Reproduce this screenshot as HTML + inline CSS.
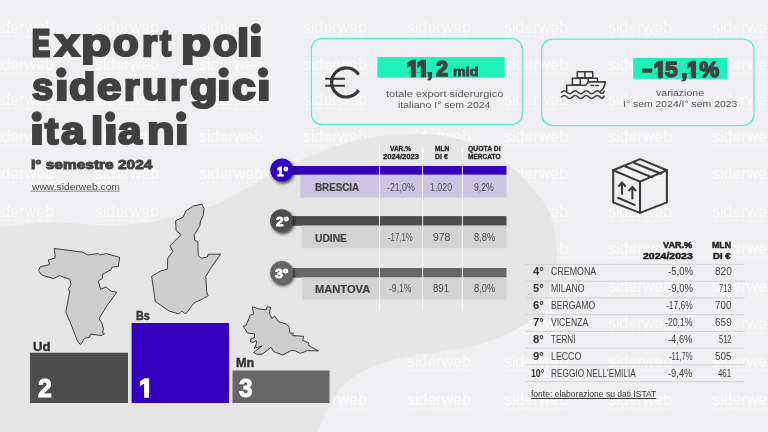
<!DOCTYPE html>
<html lang="it">
<head>
<meta charset="utf-8">
<title>Export poli siderurgici italiani</title>
<style>
html,body{margin:0;padding:0;}
body{width:768px;height:432px;overflow:hidden;background:#efeff1;font-family:"Liberation Sans",sans-serif;}
#stage{position:relative;width:768px;height:432px;overflow:hidden;background:#efeff1;}
svg.layer{position:absolute;left:0;top:0;width:768px;height:432px;}
.t{position:absolute;line-height:1;white-space:nowrap;transform-origin:0 0;}
.ttl{margin:0;padding:0;font-size:inherit;font-weight:inherit;position:static;}
.num{font-weight:inherit;position:static;}
.wm{position:absolute;color:#fff;opacity:.57;white-space:nowrap;line-height:1;}
.wm b{position:absolute;left:0;top:0;font-size:15.7px;font-weight:400;-webkit-text-stroke:.25px #fff;transform-origin:0 0;transform:scaleX(1.02);}
.wm i{position:absolute;left:.3px;top:16.02px;font-style:normal;font-weight:700;font-size:3.5px;letter-spacing:.46px;opacity:.8;}
</style>
</head>
<body>
<div id="stage">
<div id="wms">
<div class="wm" style="left:-10.1px;top:20.02px"><b>siderweb</b><i>LA COMMUNITY DELL&#39;ACCIAIO</i></div>
<div class="wm" style="left:94.9px;top:20.02px"><b>siderweb</b><i>LA COMMUNITY DELL&#39;ACCIAIO</i></div>
<div class="wm" style="left:198.9px;top:20.02px"><b>siderweb</b><i>LA COMMUNITY DELL&#39;ACCIAIO</i></div>
<div class="wm" style="left:302.9px;top:20.02px"><b>siderweb</b><i>LA COMMUNITY DELL&#39;ACCIAIO</i></div>
<div class="wm" style="left:407.4px;top:20.02px"><b>siderweb</b><i>LA COMMUNITY DELL&#39;ACCIAIO</i></div>
<div class="wm" style="left:504.4px;top:20.02px"><b>siderweb</b><i>LA COMMUNITY DELL&#39;ACCIAIO</i></div>
<div class="wm" style="left:607.9px;top:20.02px"><b>siderweb</b><i>LA COMMUNITY DELL&#39;ACCIAIO</i></div>
<div class="wm" style="left:712.4px;top:20.02px"><b>siderweb</b><i>LA COMMUNITY DELL&#39;ACCIAIO</i></div>
<div class="wm" style="left:-10.1px;top:57.02px"><b>siderweb</b><i>LA COMMUNITY DELL&#39;ACCIAIO</i></div>
<div class="wm" style="left:94.9px;top:57.02px"><b>siderweb</b><i>LA COMMUNITY DELL&#39;ACCIAIO</i></div>
<div class="wm" style="left:198.9px;top:57.02px"><b>siderweb</b><i>LA COMMUNITY DELL&#39;ACCIAIO</i></div>
<div class="wm" style="left:302.9px;top:57.02px"><b>siderweb</b><i>LA COMMUNITY DELL&#39;ACCIAIO</i></div>
<div class="wm" style="left:407.4px;top:57.02px"><b>siderweb</b><i>LA COMMUNITY DELL&#39;ACCIAIO</i></div>
<div class="wm" style="left:504.4px;top:57.02px"><b>siderweb</b><i>LA COMMUNITY DELL&#39;ACCIAIO</i></div>
<div class="wm" style="left:607.9px;top:57.02px"><b>siderweb</b><i>LA COMMUNITY DELL&#39;ACCIAIO</i></div>
<div class="wm" style="left:712.4px;top:57.02px"><b>siderweb</b><i>LA COMMUNITY DELL&#39;ACCIAIO</i></div>
<div class="wm" style="left:-10.1px;top:92.02px"><b>siderweb</b><i>LA COMMUNITY DELL&#39;ACCIAIO</i></div>
<div class="wm" style="left:94.9px;top:92.02px"><b>siderweb</b><i>LA COMMUNITY DELL&#39;ACCIAIO</i></div>
<div class="wm" style="left:198.9px;top:92.02px"><b>siderweb</b><i>LA COMMUNITY DELL&#39;ACCIAIO</i></div>
<div class="wm" style="left:302.9px;top:92.02px"><b>siderweb</b><i>LA COMMUNITY DELL&#39;ACCIAIO</i></div>
<div class="wm" style="left:407.4px;top:92.02px"><b>siderweb</b><i>LA COMMUNITY DELL&#39;ACCIAIO</i></div>
<div class="wm" style="left:504.4px;top:92.02px"><b>siderweb</b><i>LA COMMUNITY DELL&#39;ACCIAIO</i></div>
<div class="wm" style="left:607.9px;top:92.02px"><b>siderweb</b><i>LA COMMUNITY DELL&#39;ACCIAIO</i></div>
<div class="wm" style="left:712.4px;top:92.02px"><b>siderweb</b><i>LA COMMUNITY DELL&#39;ACCIAIO</i></div>
<div class="wm" style="left:-10.1px;top:129.02px"><b>siderweb</b><i>LA COMMUNITY DELL&#39;ACCIAIO</i></div>
<div class="wm" style="left:94.9px;top:129.02px"><b>siderweb</b><i>LA COMMUNITY DELL&#39;ACCIAIO</i></div>
<div class="wm" style="left:198.9px;top:129.02px"><b>siderweb</b><i>LA COMMUNITY DELL&#39;ACCIAIO</i></div>
<div class="wm" style="left:302.9px;top:129.02px"><b>siderweb</b><i>LA COMMUNITY DELL&#39;ACCIAIO</i></div>
<div class="wm" style="left:407.4px;top:129.02px"><b>siderweb</b><i>LA COMMUNITY DELL&#39;ACCIAIO</i></div>
<div class="wm" style="left:504.4px;top:129.02px"><b>siderweb</b><i>LA COMMUNITY DELL&#39;ACCIAIO</i></div>
<div class="wm" style="left:607.9px;top:129.02px"><b>siderweb</b><i>LA COMMUNITY DELL&#39;ACCIAIO</i></div>
<div class="wm" style="left:712.4px;top:129.02px"><b>siderweb</b><i>LA COMMUNITY DELL&#39;ACCIAIO</i></div>
<div class="wm" style="left:-10.1px;top:166.02px"><b>siderweb</b><i>LA COMMUNITY DELL&#39;ACCIAIO</i></div>
<div class="wm" style="left:94.9px;top:166.02px"><b>siderweb</b><i>LA COMMUNITY DELL&#39;ACCIAIO</i></div>
<div class="wm" style="left:198.9px;top:166.02px"><b>siderweb</b><i>LA COMMUNITY DELL&#39;ACCIAIO</i></div>
<div class="wm" style="left:302.9px;top:166.02px"><b>siderweb</b><i>LA COMMUNITY DELL&#39;ACCIAIO</i></div>
<div class="wm" style="left:407.4px;top:166.02px"><b>siderweb</b><i>LA COMMUNITY DELL&#39;ACCIAIO</i></div>
<div class="wm" style="left:504.4px;top:166.02px"><b>siderweb</b><i>LA COMMUNITY DELL&#39;ACCIAIO</i></div>
<div class="wm" style="left:607.9px;top:166.02px"><b>siderweb</b><i>LA COMMUNITY DELL&#39;ACCIAIO</i></div>
<div class="wm" style="left:712.4px;top:166.02px"><b>siderweb</b><i>LA COMMUNITY DELL&#39;ACCIAIO</i></div>
<div class="wm" style="left:-10.1px;top:204.02px"><b>siderweb</b><i>LA COMMUNITY DELL&#39;ACCIAIO</i></div>
<div class="wm" style="left:94.9px;top:204.02px"><b>siderweb</b><i>LA COMMUNITY DELL&#39;ACCIAIO</i></div>
<div class="wm" style="left:198.9px;top:204.02px"><b>siderweb</b><i>LA COMMUNITY DELL&#39;ACCIAIO</i></div>
<div class="wm" style="left:302.9px;top:204.02px"><b>siderweb</b><i>LA COMMUNITY DELL&#39;ACCIAIO</i></div>
<div class="wm" style="left:407.4px;top:204.02px"><b>siderweb</b><i>LA COMMUNITY DELL&#39;ACCIAIO</i></div>
<div class="wm" style="left:504.4px;top:204.02px"><b>siderweb</b><i>LA COMMUNITY DELL&#39;ACCIAIO</i></div>
<div class="wm" style="left:607.9px;top:204.02px"><b>siderweb</b><i>LA COMMUNITY DELL&#39;ACCIAIO</i></div>
<div class="wm" style="left:712.4px;top:204.02px"><b>siderweb</b><i>LA COMMUNITY DELL&#39;ACCIAIO</i></div>
<div class="wm" style="left:-10.1px;top:241.02px"><b>siderweb</b><i>LA COMMUNITY DELL&#39;ACCIAIO</i></div>
<div class="wm" style="left:94.9px;top:241.02px"><b>siderweb</b><i>LA COMMUNITY DELL&#39;ACCIAIO</i></div>
<div class="wm" style="left:198.9px;top:241.02px"><b>siderweb</b><i>LA COMMUNITY DELL&#39;ACCIAIO</i></div>
<div class="wm" style="left:302.9px;top:241.02px"><b>siderweb</b><i>LA COMMUNITY DELL&#39;ACCIAIO</i></div>
<div class="wm" style="left:407.4px;top:241.02px"><b>siderweb</b><i>LA COMMUNITY DELL&#39;ACCIAIO</i></div>
<div class="wm" style="left:504.4px;top:241.02px"><b>siderweb</b><i>LA COMMUNITY DELL&#39;ACCIAIO</i></div>
<div class="wm" style="left:607.9px;top:241.02px"><b>siderweb</b><i>LA COMMUNITY DELL&#39;ACCIAIO</i></div>
<div class="wm" style="left:712.4px;top:241.02px"><b>siderweb</b><i>LA COMMUNITY DELL&#39;ACCIAIO</i></div>
<div class="wm" style="left:-10.1px;top:279.02px"><b>siderweb</b><i>LA COMMUNITY DELL&#39;ACCIAIO</i></div>
<div class="wm" style="left:94.9px;top:279.02px"><b>siderweb</b><i>LA COMMUNITY DELL&#39;ACCIAIO</i></div>
<div class="wm" style="left:198.9px;top:279.02px"><b>siderweb</b><i>LA COMMUNITY DELL&#39;ACCIAIO</i></div>
<div class="wm" style="left:302.9px;top:279.02px"><b>siderweb</b><i>LA COMMUNITY DELL&#39;ACCIAIO</i></div>
<div class="wm" style="left:407.4px;top:279.02px"><b>siderweb</b><i>LA COMMUNITY DELL&#39;ACCIAIO</i></div>
<div class="wm" style="left:504.4px;top:279.02px"><b>siderweb</b><i>LA COMMUNITY DELL&#39;ACCIAIO</i></div>
<div class="wm" style="left:607.9px;top:279.02px"><b>siderweb</b><i>LA COMMUNITY DELL&#39;ACCIAIO</i></div>
<div class="wm" style="left:712.4px;top:279.02px"><b>siderweb</b><i>LA COMMUNITY DELL&#39;ACCIAIO</i></div>
<div class="wm" style="left:-10.1px;top:316.02px"><b>siderweb</b><i>LA COMMUNITY DELL&#39;ACCIAIO</i></div>
<div class="wm" style="left:94.9px;top:316.02px"><b>siderweb</b><i>LA COMMUNITY DELL&#39;ACCIAIO</i></div>
<div class="wm" style="left:198.9px;top:316.02px"><b>siderweb</b><i>LA COMMUNITY DELL&#39;ACCIAIO</i></div>
<div class="wm" style="left:302.9px;top:316.02px"><b>siderweb</b><i>LA COMMUNITY DELL&#39;ACCIAIO</i></div>
<div class="wm" style="left:407.4px;top:316.02px"><b>siderweb</b><i>LA COMMUNITY DELL&#39;ACCIAIO</i></div>
<div class="wm" style="left:504.4px;top:316.02px"><b>siderweb</b><i>LA COMMUNITY DELL&#39;ACCIAIO</i></div>
<div class="wm" style="left:607.9px;top:316.02px"><b>siderweb</b><i>LA COMMUNITY DELL&#39;ACCIAIO</i></div>
<div class="wm" style="left:712.4px;top:316.02px"><b>siderweb</b><i>LA COMMUNITY DELL&#39;ACCIAIO</i></div>
<div class="wm" style="left:-10.1px;top:354.02px"><b>siderweb</b><i>LA COMMUNITY DELL&#39;ACCIAIO</i></div>
<div class="wm" style="left:94.9px;top:354.02px"><b>siderweb</b><i>LA COMMUNITY DELL&#39;ACCIAIO</i></div>
<div class="wm" style="left:198.9px;top:354.02px"><b>siderweb</b><i>LA COMMUNITY DELL&#39;ACCIAIO</i></div>
<div class="wm" style="left:302.9px;top:354.02px"><b>siderweb</b><i>LA COMMUNITY DELL&#39;ACCIAIO</i></div>
<div class="wm" style="left:407.4px;top:354.02px"><b>siderweb</b><i>LA COMMUNITY DELL&#39;ACCIAIO</i></div>
<div class="wm" style="left:504.4px;top:354.02px"><b>siderweb</b><i>LA COMMUNITY DELL&#39;ACCIAIO</i></div>
<div class="wm" style="left:607.9px;top:354.02px"><b>siderweb</b><i>LA COMMUNITY DELL&#39;ACCIAIO</i></div>
<div class="wm" style="left:712.4px;top:354.02px"><b>siderweb</b><i>LA COMMUNITY DELL&#39;ACCIAIO</i></div>
<div class="wm" style="left:-10.1px;top:392.02px"><b>siderweb</b><i>LA COMMUNITY DELL&#39;ACCIAIO</i></div>
<div class="wm" style="left:94.9px;top:392.02px"><b>siderweb</b><i>LA COMMUNITY DELL&#39;ACCIAIO</i></div>
<div class="wm" style="left:198.9px;top:392.02px"><b>siderweb</b><i>LA COMMUNITY DELL&#39;ACCIAIO</i></div>
<div class="wm" style="left:302.9px;top:392.02px"><b>siderweb</b><i>LA COMMUNITY DELL&#39;ACCIAIO</i></div>
<div class="wm" style="left:407.4px;top:392.02px"><b>siderweb</b><i>LA COMMUNITY DELL&#39;ACCIAIO</i></div>
<div class="wm" style="left:504.4px;top:392.02px"><b>siderweb</b><i>LA COMMUNITY DELL&#39;ACCIAIO</i></div>
<div class="wm" style="left:607.9px;top:392.02px"><b>siderweb</b><i>LA COMMUNITY DELL&#39;ACCIAIO</i></div>
<div class="wm" style="left:712.4px;top:392.02px"><b>siderweb</b><i>LA COMMUNITY DELL&#39;ACCIAIO</i></div>
</div>
<svg class="layer" viewBox="0 0 768 432">
  <path d="M-6.0,229.0 C-5.0,228.8 -3.8,228.3 0.0,227.7 C3.8,227.1 11.1,225.9 16.7,225.2 C22.2,224.5 27.7,223.9 33.3,223.5 C38.8,223.1 44.4,222.8 50.0,222.7 C55.6,222.6 61.2,222.5 66.7,222.7 C72.2,222.9 77.8,223.6 83.3,224.0 C88.8,224.4 94.4,224.9 100.0,225.2 C105.6,225.4 111.3,225.7 116.7,225.5 C122.1,225.3 127.8,224.5 132.5,224.1 C137.2,223.7 140.8,223.5 145.0,222.9 C149.2,222.3 153.3,221.3 157.5,220.4 C161.7,219.5 165.4,218.5 170.0,217.2 C174.6,216.0 179.2,214.7 185.0,213.0 C190.8,211.3 200.2,208.6 205.0,207.2 C209.8,205.9 211.7,205.9 214.0,205.2 C216.3,204.5 215.1,205.2 219.0,203.2 C222.9,201.2 231.3,196.4 237.5,193.1 C243.7,189.8 250.8,186.0 256.2,183.1 C261.7,180.2 265.1,178.3 270.0,175.6 C274.9,172.9 280.8,169.6 285.8,167.0 C290.8,164.4 294.6,162.7 300.0,160.3 C305.4,157.9 312.3,155.0 318.5,152.6 C324.7,150.2 330.8,148.1 337.0,146.1 C343.2,144.1 349.4,142.1 355.6,140.6 C361.8,139.1 367.8,137.9 374.0,136.9 C380.2,135.9 386.9,135.3 392.6,134.8 C398.3,134.3 403.3,134.2 408.0,134.0 C412.7,133.8 416.7,133.8 421.0,133.9 C425.3,134.0 429.8,134.2 434.0,134.6 C438.2,135.0 441.9,135.7 446.0,136.4 C450.1,137.1 454.3,138.0 458.5,139.0 C462.7,140.0 467.1,141.3 471.0,142.6 C474.9,143.9 478.5,145.3 482.0,146.8 C485.5,148.3 488.8,149.7 492.0,151.6 C495.2,153.5 498.2,156.2 501.2,158.5 C504.2,160.8 507.3,163.3 510.0,165.6 C512.7,167.9 514.6,169.7 517.5,172.5 C520.4,175.3 524.8,179.6 527.5,182.5 C530.2,185.4 531.5,187.3 533.8,190.0 C536.0,192.7 539.0,195.6 541.2,198.8 C543.5,201.9 545.7,205.2 547.5,208.8 C549.3,212.3 550.6,216.0 551.9,220.0 C553.1,224.0 554.2,228.5 555.0,232.5 C555.8,236.5 556.1,239.9 556.4,244.0 C556.7,248.1 557.2,252.7 557.0,257.0 C556.8,261.3 555.7,266.4 555.2,270.0 C554.7,273.6 554.6,275.2 553.8,278.8 C552.9,282.3 551.5,287.3 550.0,291.2 C548.5,295.2 546.9,299.0 545.0,302.5 C543.1,306.0 541.2,309.4 538.8,312.5 C536.2,315.6 534.0,318.1 530.0,321.0 C526.0,323.9 519.6,327.5 515.0,330.0 C510.4,332.5 506.7,334.4 502.5,336.2 C498.3,338.1 494.2,339.6 490.0,341.0 C485.8,342.4 481.7,343.7 477.5,344.8 C473.3,345.8 469.2,346.7 465.0,347.5 C460.8,348.3 456.7,349.0 452.5,349.8 C448.3,350.5 444.5,351.2 440.0,351.9 C435.5,352.6 429.8,353.1 425.2,353.8 C420.7,354.4 416.9,354.9 412.8,355.6 C408.6,356.3 404.4,357.2 400.2,358.1 C396.1,359.0 391.9,360.0 387.8,361.2 C383.6,362.5 379.4,363.8 375.2,365.6 C371.1,367.4 366.7,369.8 362.8,371.9 C358.8,374.0 354.9,376.1 351.5,378.4 C348.1,380.7 345.0,382.9 342.5,385.5 C340.0,388.1 338.3,390.9 336.2,394.2 C334.2,397.6 332.1,401.5 330.0,405.5 C327.9,409.5 325.7,413.6 323.8,418.0 C321.8,422.4 319.6,428.3 318.1,432.0 C316.6,435.7 315.5,438.7 315.0,440.0 L-6,440 Z" fill="#e6e6e6"/>
</svg>
<svg class="layer" viewBox="0 0 768 432">
  <defs>
    <filter id="sh" x="-50%" y="-50%" width="200%" height="200%">
      <feDropShadow dx="1.3" dy="1.9" stdDeviation="1.4" flood-color="#000" flood-opacity=".7"/>
    </filter>
  </defs>
  <!-- stat boxes -->
  <rect x="311.4" y="38.3" width="210.9" height="86.4" rx="11" fill="none" stroke="#52f0c8" stroke-width="1.25"/>
  <rect x="541.7" y="39" width="212.3" height="86.5" rx="11" fill="none" stroke="#52f0c8" stroke-width="1.25"/>
  <rect x="377.4" y="57.1" width="127.3" height="20.7" fill="#1ef0b9"/>
  <rect x="633.2" y="58" width="94.4" height="20.9" fill="#1ef0b9"/>
  <!-- euro icon -->
  <g fill="none" stroke="#383838">
    <path d="M358.6,74.6 A14.6,14.6 0 1 0 358.6,90.2" stroke-width="3.2"/>
    <path d="M325.2,78.7 H344.9 M325.2,85.8 H344.9" stroke-width="2.1"/>
  </g>
  <!-- ship icon -->
  <g fill="none" stroke="#3c3c3c" stroke-width="1.55" stroke-linejoin="round" stroke-linecap="round" transform="translate(0,.45)">
    <rect x="577.3" y="71.3" width="15.4" height="6"/>
    <path d="M584.8,71.3 V77.3"/>
    <rect x="572.4" y="77.8" width="7.8" height="6.8"/>
    <path d="M580.2,77.8 H588.2 V82 M589,77.8 H597.4 V81"/>
    <path d="M566.7,91 V84.8 H585.4 L589,81.4 H605.2 C605,86 603,89 600,91.3"/>
    <path d="M591.1,85 H593.7 M595.8,85 H598.4"/>
    <path d="M561.5,91.8 q2.75,-3 5.5,0 t5.5,0 t5.5,0 t5.5,0 t5.5,0 t5.5,0 t5.5,0 t4.2,-1"/>
    <path d="M561.5,96.5 q2.75,-3 5.5,0 t5.5,0 t5.5,0 t5.5,0 t5.5,0 t5.5,0 t5.5,0 t4.2,-1"/>
  </g>
  <!-- box icon -->
  <g fill="none" stroke="#3a3a3a" stroke-width="2.05" stroke-linejoin="round" stroke-linecap="round">
    <path d="M640,159.1 L666.9,170.2 V202.4 L640,212.9 L613.2,202.4 V170.2 Z"/>
    <path d="M613.2,170.2 L640,181.6 L666.9,170.2 M640,181.6 V212.9"/>
    <path d="M633.8,162.7 L661,173.7 M625,166.2 L651.9,177.3"/>
    <path d="M622,183 V194 M618.9,186 L622,182.5 L625.2,186"/>
    <path d="M632.4,187.2 V198.4 M629.2,190.4 L632.4,186.9 L635.6,190.4"/>
    <path d="M618,197.8 L634.7,204.9"/>
  </g>
  <!-- table -->
  <rect x="282" y="166" width="224.5" height="8.8" fill="#3300c0"/>
  <rect x="300.3" y="174.8" width="206.2" height="22.9" fill="#cbc5e3"/>
  <rect x="282" y="216.1" width="224.5" height="9.6" fill="#4d4d4d"/>
  <rect x="301.9" y="225.6" width="204.6" height="22.6" fill="#d3d3d3"/>
  <rect x="282" y="268" width="224.5" height="9.6" fill="#666"/>
  <rect x="302.2" y="277.5" width="204.3" height="22" fill="#d3d3d3"/>
  <path d="M379.5,143.5 V310 M422.6,148 V310.5 M462.4,148 V310.5" stroke="#fff" stroke-width=".9" fill="none"/>
  <circle cx="281.8" cy="170" r="11.5" fill="#3300c0" filter="url(#sh)"/>
  <circle cx="281.6" cy="220.7" r="11.5" fill="#4d4d4d" filter="url(#sh)"/>
  <circle cx="281.6" cy="272.6" r="11.5" fill="#666" filter="url(#sh)"/>
  <!-- maps -->
  <g fill="#cecece" stroke="#3d3d3d" stroke-width="1" stroke-linejoin="round">
    <path d="M54.3,248.5 L83,252.2 87.6,255 98.3,253.6 99.9,255 106.2,253.6 119.6,257.3 118.4,266.6 112.2,267.1 110.8,269.8 102.2,274.5 102.7,278.2 98.3,281 100.6,289.5 105.7,286.8 111.5,291.4 116.8,292.1 105.7,307.6 99,318.8 101.5,322.1 103.5,328.8 102.5,332.7 104.4,333.7 101.2,335.6 90.4,334 89.6,337.1 84.6,338.5 80.4,344.6 77.5,341.3 71.7,326 66.3,313.1 65.9,311.5 69.8,290.7 68.2,289.8 71,284.4 69.8,279.3 59.4,275.6 53.6,278.6 42,275.2 38.5,270.5 40.4,266.6 49.7,264.7 48.3,260.1 55.2,257.8 Z"/>
    <path d="M201.7,204.2 L203.9,208.3 203.3,215.3 200.6,220.8 199.7,226.4 194.2,234.7 194.7,240.3 197.8,241.7 198.3,255.6 201.1,258.3 207.5,256.9 208.1,254.2 220.6,254.2 210.8,268.1 205.8,276.4 206.7,291.7 208.1,295.8 203.3,298.6 194.2,302.8 185.8,313.9 181.7,311.1 178.9,313.9 169.2,311.1 155.3,301.4 151.7,276.4 160.8,270.8 167.2,269.4 167.8,258.3 172.8,251.4 170,245.8 181.1,234.7 176.1,230.6 175.6,220.8 183.1,217.2 185.8,211.1 192.8,206.1 Z"/>
    <path d="M252.4,306.7 L258.4,308.8 266,309.9 267.3,306.7 270.5,307.2 269.4,313.2 271.8,318.5 274.6,316.1 278.6,321.7 286.7,324.2 289.2,327.4 290,333.1 293.5,333.1 292.4,335.5 303.7,336.3 302.6,340.4 308.6,342.8 308.9,345.6 318.3,350.9 307.5,350.6 300.5,353.3 294.8,350.6 290.8,350.6 282.7,355 273.8,351.7 271,347.2 262.4,354.2 256.7,354.2 253.5,352.5 261.9,346.1 254.3,348.2 256.7,343.3 255.9,340.1 254,342.3 250.7,342 250.7,338.4 254.3,337.9 254.6,333.9 247.5,333.1 243.3,326.1 245.9,325.5 250.3,315.3 253.5,314.1 Z"/>
  </g>
  <!-- podium -->
  <rect x="30" y="352.7" width="98" height="50.3" fill="#4d4d4d"/>
  <rect x="131.6" y="323" width="97.4" height="80" fill="#3300c0"/>
  <rect x="232.5" y="370.5" width="97" height="32.5" fill="#666"/>
  <!-- list lines -->
  <g stroke="#d2d2d4" stroke-width="1">
    <path d="M525.5,264.40 H744.5 M525.5,281.15 H744.5 M525.5,297.90 H744.5 M525.5,314.65 H744.5 M525.5,331.40 H744.5 M525.5,348.15 H744.5 M525.5,364.90 H744.5 M525.5,381.65 H744.5"/>
  </g>
  <g fill="#414141"><circle cx="255.8" cy="28.4" r="5.15"/><circle cx="61.2" cy="72.3" r="5.15"/><circle cx="223.6" cy="72.3" r="5.15"/><circle cx="263.0" cy="72.3" r="5.15"/><circle cx="36.7" cy="116.5" r="5.15"/><circle cx="110.1" cy="116.5" r="5.15"/><circle cx="181.1" cy="116.5" r="5.15"/></g>
  <path d="M30.7,191.2 H119.7" stroke="#444" stroke-width=".6"/>
</svg>
<h1 class="ttl"><span class="t" style="left:32.33px;top:26.02px;font-size:36.77px;font-weight:700;color:#414141;transform:scaleX(0.7364);-webkit-text-stroke:3.0px #414141;">E</span><span class="t" style="left:55.10px;top:25.02px;font-size:37.94px;font-weight:700;color:#414141;transform:scaleX(1.1667);-webkit-text-stroke:2.2px #414141;">x</span><span class="t" style="left:80.99px;top:25.02px;font-size:37.94px;font-weight:700;color:#414141;transform:scaleX(1.3050);-webkit-text-stroke:2.2px #414141;">p</span><span class="t" style="left:113.29px;top:25.02px;font-size:37.94px;font-weight:700;color:#414141;transform:scaleX(1.1095);-webkit-text-stroke:2.2px #414141;">o</span><span class="t" style="left:141.64px;top:25.02px;font-size:37.65px;font-weight:700;color:#414141;transform:scaleX(1.0308);-webkit-text-stroke:2.4px #414141;">r</span><span class="t" style="left:159.50px;top:25.02px;font-size:37.65px;font-weight:700;color:#414141;transform:scaleX(0.8846);-webkit-text-stroke:2.4px #414141;">t</span> <span class="t" style="left:180.92px;top:25.02px;font-size:37.94px;font-weight:700;color:#414141;transform:scaleX(1.2900);-webkit-text-stroke:2.2px #414141;">p</span><span class="t" style="left:212.64px;top:25.02px;font-size:37.94px;font-weight:700;color:#414141;transform:scaleX(1.0571);-webkit-text-stroke:2.2px #414141;">o</span><span class="t" style="left:237.30px;top:25.02px;font-size:37.94px;font-weight:700;color:#414141;transform:scaleX(1.1500);-webkit-text-stroke:2.2px #414141;">l</span><span class="t" style="left:249.30px;top:25.02px;font-size:37.94px;font-weight:700;color:#414141;transform:scaleX(1.3000);-webkit-text-stroke:2.2px #414141;clip-path:inset(10.88px -5px -5px -5px);">i</span> <span class="t" style="left:31.59px;top:69.02px;font-size:37.94px;font-weight:700;color:#414141;transform:scaleX(1.0053);-webkit-text-stroke:2.2px #414141;">s</span><span class="t" style="left:54.70px;top:69.02px;font-size:37.94px;font-weight:700;color:#414141;transform:scaleX(1.3000);-webkit-text-stroke:2.2px #414141;clip-path:inset(10.78px -5px -5px -5px);">i</span><span class="t" style="left:68.96px;top:69.02px;font-size:37.94px;font-weight:700;color:#414141;transform:scaleX(1.1400);-webkit-text-stroke:2.2px #414141;">d</span><span class="t" style="left:97.24px;top:69.02px;font-size:37.94px;font-weight:700;color:#414141;transform:scaleX(1.1579);-webkit-text-stroke:2.2px #414141;">e</span><span class="t" style="left:123.81px;top:69.02px;font-size:37.65px;font-weight:700;color:#414141;transform:scaleX(1.0462);-webkit-text-stroke:2.4px #414141;">r</span><span class="t" style="left:142.22px;top:69.02px;font-size:37.94px;font-weight:700;color:#414141;transform:scaleX(1.0895);-webkit-text-stroke:2.2px #414141;">u</span><span class="t" style="left:170.00px;top:69.02px;font-size:37.65px;font-weight:700;color:#414141;transform:scaleX(1.1000);-webkit-text-stroke:2.4px #414141;">r</span><span class="t" style="left:189.71px;top:69.02px;font-size:37.94px;font-weight:700;color:#414141;transform:scaleX(1.1900);-webkit-text-stroke:2.2px #414141;">g</span><span class="t" style="left:217.10px;top:69.02px;font-size:37.94px;font-weight:700;color:#414141;transform:scaleX(1.3000);-webkit-text-stroke:2.2px #414141;clip-path:inset(10.78px -5px -5px -5px);">i</span><span class="t" style="left:232.48px;top:69.02px;font-size:37.94px;font-weight:700;color:#414141;transform:scaleX(1.1211);-webkit-text-stroke:2.2px #414141;">c</span><span class="t" style="left:256.50px;top:69.02px;font-size:37.94px;font-weight:700;color:#414141;transform:scaleX(1.3000);-webkit-text-stroke:2.2px #414141;clip-path:inset(10.78px -5px -5px -5px);">i</span> <span class="t" style="left:30.03px;top:113.02px;font-size:37.94px;font-weight:700;color:#414141;transform:scaleX(1.3333);-webkit-text-stroke:2.2px #414141;clip-path:inset(10.98px -5px -5px -5px);">i</span><span class="t" style="left:44.90px;top:113.02px;font-size:37.65px;font-weight:700;color:#414141;transform:scaleX(1.0538);-webkit-text-stroke:2.4px #414141;">t</span><span class="t" style="left:61.48px;top:113.02px;font-size:37.94px;font-weight:700;color:#414141;transform:scaleX(1.1238);-webkit-text-stroke:2.2px #414141;">a</span><span class="t" style="left:91.07px;top:113.02px;font-size:37.94px;font-weight:700;color:#414141;transform:scaleX(1.1667);-webkit-text-stroke:2.2px #414141;">l</span><span class="t" style="left:103.60px;top:113.02px;font-size:37.94px;font-weight:700;color:#414141;transform:scaleX(1.3000);-webkit-text-stroke:2.2px #414141;clip-path:inset(10.98px -5px -5px -5px);">i</span><span class="t" style="left:118.48px;top:113.02px;font-size:37.94px;font-weight:700;color:#414141;transform:scaleX(1.1190);-webkit-text-stroke:2.2px #414141;">a</span><span class="t" style="left:146.52px;top:113.02px;font-size:37.94px;font-weight:700;color:#414141;transform:scaleX(1.1895);-webkit-text-stroke:2.2px #414141;">n</span><span class="t" style="left:174.60px;top:113.02px;font-size:37.94px;font-weight:700;color:#414141;transform:scaleX(1.3000);-webkit-text-stroke:2.2px #414141;clip-path:inset(10.98px -5px -5px -5px);">i</span></h1>
<span class="t" style="left:31.15px;top:159.02px;font-size:12.79px;font-weight:700;color:#414141;transform:scaleX(1.2092);-webkit-text-stroke:0.9px #414141;">I° semestre 2024</span>
<span class="t" style="left:31.77px;top:182.02px;font-size:9.6px;font-weight:400;color:#4a4a4a;transform:scaleX(1.0708);">www.siderweb.com</span>
<b class="num"><span class="t" style="left:407.08px;top:58.02px;font-size:22.53px;font-weight:700;color:#414141;transform:scaleX(0.9338);-webkit-text-stroke:2.4px #414141;clip-path:polygon(-5px -5px,40px -5px,40px 14.37px,9.50px 14.37px,9.50px 60px,4.11px 60px,4.11px 14.37px,-5px 14.37px);">1</span><span class="t" style="left:416.88px;top:58.02px;font-size:22.53px;font-weight:700;color:#414141;transform:scaleX(0.9338);-webkit-text-stroke:2.4px #414141;clip-path:polygon(-5px -5px,40px -5px,40px 14.37px,9.50px 14.37px,9.50px 60px,4.11px 60px,4.11px 14.37px,-5px 14.37px);">1</span><span class="t" style="left:427.32px;top:58.02px;font-size:22.53px;font-weight:700;color:#414141;transform:scaleX(0.9250);-webkit-text-stroke:1.5px #414141;">,</span><span class="t" style="left:435.75px;top:58.02px;font-size:22.53px;font-weight:700;color:#414141;transform:scaleX(0.9667);-webkit-text-stroke:1.5px #414141;">2</span></b>
<span class="t" style="left:453.40px;top:65.02px;font-size:13.2px;font-weight:700;color:#414141;transform:scaleX(1.0859);-webkit-text-stroke:0.8px #414141;">mld</span>
<span class="t" style="left:385.70px;top:89.02px;font-size:9.7px;font-weight:400;color:#555;transform:scaleX(1.1349);">totale export siderurgico</span>
<span class="t" style="left:397.60px;top:100.02px;font-size:9.7px;font-weight:400;color:#555;transform:scaleX(1.0850);">italiano I° sem 2024</span>
<b class="num"><span class="t" style="left:642.45px;top:58.02px;font-size:22.38px;font-weight:700;color:#414141;transform:scaleX(1.4000);-webkit-text-stroke:1.5px #414141;">-</span><span class="t" style="left:653.99px;top:59.02px;font-size:22.38px;font-weight:700;color:#414141;transform:scaleX(0.9384);-webkit-text-stroke:2.4px #414141;clip-path:polygon(-5px -5px,40px -5px,40px 14.39px,9.44px 14.39px,9.44px 60px,4.07px 60px,4.07px 14.39px,-5px 14.39px);">1</span><span class="t" style="left:665.15px;top:59.02px;font-size:22.38px;font-weight:700;color:#414141;transform:scaleX(1.0250);-webkit-text-stroke:1.5px #414141;">5</span><span class="t" style="left:681.00px;top:59.02px;font-size:22.38px;font-weight:700;color:#414141;transform:scaleX(1.0500);-webkit-text-stroke:1.5px #414141;">,</span><span class="t" style="left:687.49px;top:59.02px;font-size:22.38px;font-weight:700;color:#414141;transform:scaleX(0.9493);-webkit-text-stroke:2.4px #414141;clip-path:polygon(-5px -5px,40px -5px,40px 14.39px,9.44px 14.39px,9.44px 60px,4.07px 60px,4.07px 14.39px,-5px 14.39px);">1</span><span class="t" style="left:699.15px;top:59.02px;font-size:22.38px;font-weight:700;color:#414141;transform:scaleX(1.0000);-webkit-text-stroke:1.5px #414141;">%</span></b>
<span class="t" style="left:656.40px;top:88.02px;font-size:9.7px;font-weight:400;color:#555;transform:scaleX(1.0875);">variazione</span>
<span class="t" style="left:623.40px;top:99.02px;font-size:9.7px;font-weight:400;color:#555;transform:scaleX(1.0755);">I° sem 2024/I° sem 2023</span>
<span class="t" style="left:390.35px;top:145.02px;font-size:7.27px;font-weight:700;color:#222;transform:scaleX(0.9026);-webkit-text-stroke:0.3px #222;">VAR.%</span>
<span class="t" style="left:382.85px;top:153.02px;font-size:7.27px;font-weight:700;color:#222;transform:scaleX(1.0465);-webkit-text-stroke:0.3px #222;">2024/2023</span>
<span class="t" style="left:434.55px;top:145.02px;font-size:7.27px;font-weight:700;color:#222;transform:scaleX(0.8973);-webkit-text-stroke:0.3px #222;">MLN</span>
<span class="t" style="left:435.15px;top:153.02px;font-size:7.27px;font-weight:700;color:#222;transform:scaleX(0.9635);-webkit-text-stroke:0.3px #222;">DI €</span>
<span class="t" style="left:468.25px;top:145.02px;font-size:7.27px;font-weight:700;color:#222;transform:scaleX(0.9382);-webkit-text-stroke:0.3px #222;">QUOTA DI</span>
<span class="t" style="left:468.25px;top:153.02px;font-size:7.27px;font-weight:700;color:#222;transform:scaleX(0.9009);-webkit-text-stroke:0.3px #222;">MERCATO</span>
<span class="t" style="left:277.35px;top:166.02px;font-size:12.94px;font-weight:700;color:#fff;transform:scaleX(0.9102);-webkit-text-stroke:0.9px #fff;">1°</span>
<span class="t" style="left:275.75px;top:216.02px;font-size:12.94px;font-weight:700;color:#fff;transform:scaleX(1.0414);-webkit-text-stroke:0.9px #fff;">2°</span>
<span class="t" style="left:275.25px;top:268.02px;font-size:12.94px;font-weight:700;color:#fff;transform:scaleX(1.0824);-webkit-text-stroke:0.9px #fff;">3°</span>
<span class="t" style="left:315.10px;top:182.02px;font-size:10.61px;font-weight:700;color:#414141;transform:scaleX(0.9234);-webkit-text-stroke:0.2px #414141;">BRESCIA</span>
<span class="t" style="left:386.60px;top:182.02px;font-size:10.76px;font-weight:400;color:#4a4a4a;transform:scaleX(0.8115);">-21,0%</span>
<span class="t" style="left:430.00px;top:182.02px;font-size:10.76px;font-weight:400;color:#4a4a4a;transform:scaleX(0.8209);">1.020</span>
<span class="t" style="left:474.30px;top:182.02px;font-size:10.76px;font-weight:400;color:#4a4a4a;transform:scaleX(0.8018);">9,2%</span>
<span class="t" style="left:315.10px;top:233.02px;font-size:10.61px;font-weight:700;color:#414141;transform:scaleX(0.9656);-webkit-text-stroke:0.2px #414141;">UDINE</span>
<span class="t" style="left:388.20px;top:232.02px;font-size:10.76px;font-weight:400;color:#4a4a4a;transform:scaleX(0.7275);">-17,1%</span>
<span class="t" style="left:432.70px;top:232.02px;font-size:10.76px;font-weight:400;color:#4a4a4a;transform:scaleX(0.9634);">978</span>
<span class="t" style="left:473.80px;top:232.02px;font-size:10.76px;font-weight:400;color:#4a4a4a;transform:scaleX(0.8619);">8,8%</span>
<span class="t" style="left:315.10px;top:284.02px;font-size:10.61px;font-weight:700;color:#414141;transform:scaleX(1.0483);-webkit-text-stroke:0.2px #414141;">MANTOVA</span>
<span class="t" style="left:389.30px;top:283.02px;font-size:10.76px;font-weight:400;color:#4a4a4a;transform:scaleX(0.8028);">-9,1%</span>
<span class="t" style="left:433.30px;top:283.02px;font-size:10.76px;font-weight:400;color:#4a4a4a;transform:scaleX(0.8910);">891</span>
<span class="t" style="left:473.80px;top:283.02px;font-size:10.76px;font-weight:400;color:#4a4a4a;transform:scaleX(0.8619);">8,0%</span>
<span class="t" style="left:33.20px;top:341.02px;font-size:12.14px;font-weight:700;color:#333;transform:scaleX(1.0853);-webkit-text-stroke:0.4px #333;">Ud</span>
<span class="t" style="left:135.70px;top:310.02px;font-size:12.14px;font-weight:700;color:#333;transform:scaleX(0.8949);-webkit-text-stroke:0.4px #333;">Bs</span>
<span class="t" style="left:236.45px;top:357.02px;font-size:12.14px;font-weight:700;color:#333;transform:scaleX(1.0438);-webkit-text-stroke:0.4px #333;">Mn</span>
<span class="t" style="left:38.00px;top:376.02px;font-size:25.8px;font-weight:700;color:#fff;transform:scaleX(0.9643);-webkit-text-stroke:1.0px #fff;">2</span>
<span class="t" style="left:139.08px;top:376.02px;font-size:24.93px;font-weight:700;color:#fff;transform:scaleX(1.0126);-webkit-text-stroke:1.6px #fff;clip-path:polygon(-5px -5px,40px -5px,40px 16.98px,9.99px 16.98px,9.99px 60px,5.07px 60px,5.07px 16.98px,-5px 16.98px);">1</span>
<span class="t" style="left:239.25px;top:376.02px;font-size:25.8px;font-weight:700;color:#fff;transform:scaleX(0.9464);-webkit-text-stroke:1.0px #fff;">3</span>
<span class="t" style="left:662.55px;top:240.02px;font-size:9.45px;font-weight:700;color:#222;transform:scaleX(0.9628);-webkit-text-stroke:0.5px #222;">VAR.%</span>
<span class="t" style="left:642.75px;top:251.02px;font-size:9.45px;font-weight:700;color:#222;transform:scaleX(1.1158);-webkit-text-stroke:0.5px #222;">2024/2023</span>
<span class="t" style="left:712.25px;top:240.02px;font-size:9.45px;font-weight:700;color:#222;transform:scaleX(0.9333);-webkit-text-stroke:0.5px #222;">MLN</span>
<span class="t" style="left:713.25px;top:251.02px;font-size:9.45px;font-weight:700;color:#222;transform:scaleX(1.0105);-webkit-text-stroke:0.5px #222;">DI €</span>
<span class="t" style="left:533.00px;top:267.02px;font-size:10.03px;font-weight:700;color:#333;transform:scaleX(1.1233);">4°</span>
<span class="t" style="left:551.25px;top:267.02px;font-size:10.03px;font-weight:400;color:#444;transform:scaleX(0.8833);">CREMONA</span>
<span class="t" style="left:667.50px;top:267.02px;font-size:10.03px;font-weight:400;color:#444;transform:scaleX(0.9521);">-5,0%</span>
<span class="t" style="left:714.50px;top:267.02px;font-size:10.03px;font-weight:400;color:#444;transform:scaleX(1.0064);">820</span>
<span class="t" style="left:533.00px;top:284.02px;font-size:10.03px;font-weight:700;color:#333;transform:scaleX(1.1233);">5°</span>
<span class="t" style="left:551.25px;top:284.02px;font-size:10.03px;font-weight:400;color:#444;transform:scaleX(0.8741);">MILANO</span>
<span class="t" style="left:667.50px;top:284.02px;font-size:10.03px;font-weight:400;color:#444;transform:scaleX(0.9521);">-9,0%</span>
<span class="t" style="left:718.75px;top:284.02px;font-size:10.03px;font-weight:400;color:#444;transform:scaleX(0.7584);">713</span>
<span class="t" style="left:533.00px;top:301.02px;font-size:10.03px;font-weight:700;color:#333;transform:scaleX(1.1233);">6°</span>
<span class="t" style="left:551.25px;top:301.02px;font-size:10.03px;font-weight:400;color:#444;transform:scaleX(0.8656);">BERGAMO</span>
<span class="t" style="left:665.75px;top:301.02px;font-size:10.03px;font-weight:400;color:#444;transform:scaleX(0.8404);">-17,6%</span>
<span class="t" style="left:715.00px;top:301.02px;font-size:10.03px;font-weight:400;color:#444;transform:scaleX(0.9772);">700</span>
<span class="t" style="left:533.00px;top:318.02px;font-size:10.03px;font-weight:700;color:#333;transform:scaleX(1.1233);">7°</span>
<span class="t" style="left:551.25px;top:318.02px;font-size:10.03px;font-weight:400;color:#444;transform:scaleX(0.8576);">VICENZA</span>
<span class="t" style="left:664.80px;top:318.02px;font-size:10.03px;font-weight:400;color:#444;transform:scaleX(0.8703);">-20,1%</span>
<span class="t" style="left:714.50px;top:318.02px;font-size:10.03px;font-weight:400;color:#444;transform:scaleX(1.0064);">659</span>
<span class="t" style="left:533.00px;top:335.02px;font-size:10.03px;font-weight:700;color:#333;transform:scaleX(1.1233);">8°</span>
<span class="t" style="left:551.25px;top:335.02px;font-size:10.03px;font-weight:400;color:#444;transform:scaleX(0.8116);">TERNI</span>
<span class="t" style="left:668.00px;top:335.02px;font-size:10.03px;font-weight:400;color:#444;transform:scaleX(0.9330);">-4,6%</span>
<span class="t" style="left:719.00px;top:335.02px;font-size:10.03px;font-weight:400;color:#444;transform:scaleX(0.7439);">512</span>
<span class="t" style="left:533.00px;top:352.02px;font-size:10.03px;font-weight:700;color:#333;transform:scaleX(1.1233);">9°</span>
<span class="t" style="left:551.25px;top:352.02px;font-size:10.03px;font-weight:400;color:#444;transform:scaleX(0.8785);">LECCO</span>
<span class="t" style="left:668.75px;top:352.02px;font-size:10.03px;font-weight:400;color:#444;transform:scaleX(0.7641);">-11,7%</span>
<span class="t" style="left:715.00px;top:352.02px;font-size:10.03px;font-weight:400;color:#444;transform:scaleX(0.9772);">505</span>
<span class="t" style="left:530.50px;top:369.02px;font-size:10.03px;font-weight:700;color:#333;transform:scaleX(0.8751);">10°</span>
<span class="t" style="left:551.25px;top:369.02px;font-size:10.03px;font-weight:400;color:#444;transform:scaleX(0.8254);">REGGIO NELL'EMILIA</span>
<span class="t" style="left:668.00px;top:369.02px;font-size:10.03px;font-weight:400;color:#444;transform:scaleX(0.9330);">-9,4%</span>
<span class="t" style="left:718.30px;top:369.02px;font-size:10.03px;font-weight:400;color:#444;transform:scaleX(0.7847);">461</span>
<span class="t" style="left:530.50px;top:391.02px;font-size:8.2px;font-weight:400;color:#333;transform:scaleX(1.0412);text-decoration:underline;">fonte: elaborazione su dati ISTAT</span>
</div>
</body>
</html>
